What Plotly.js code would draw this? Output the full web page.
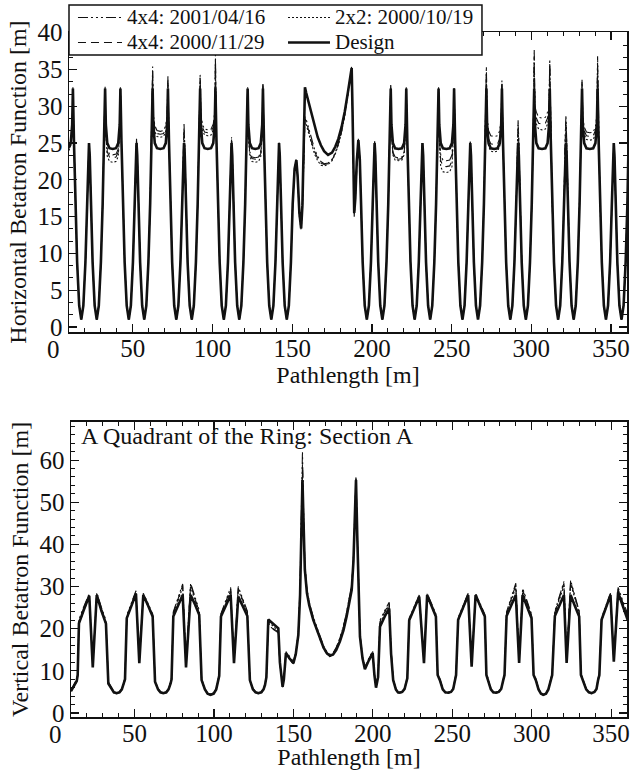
<!DOCTYPE html>
<html>
<head>
<meta charset="utf-8">
<script src="https://cdn.plot.ly/plotly-3.0.1.min.js"></script>
<style>html,body{margin:0;padding:0;background:#fff;}#chart{width:643px;height:770px;}</style>
</head>
<body>
<div id="chart"></div>
<script>
// ---------- Horizontal betatron function (top panel) ----------
const sH = [
10.0, 11.1, 12.0, 12.45, 13.1, 14.0, 15.1, 16.4,
17.7, 19.0, 20.3, 21.4, 22.1, 22.55, 23.0, 23.7, 24.8, 26.1, 27.4, 28.7, 30.0, 31.1, 32.0, 32.65, 33.1, 34.0, 35.4, 37.45, 39.5, 40.9, 41.8, 42.25, 42.9, 43.8, 44.9, 46.2,
47.5, 48.8, 50.1, 51.2, 51.9, 52.35, 52.8, 53.5, 54.6, 55.9, 57.2, 58.5, 59.8, 60.9, 61.8, 62.45, 62.9, 63.8, 65.2, 67.25, 69.3, 70.7, 71.6, 72.05, 72.7, 73.6, 74.7, 76.0,
77.3, 78.6, 79.9, 81.0, 81.7, 82.15, 82.6, 83.3, 84.4, 85.7, 87.0, 88.3, 89.6, 90.7, 91.6, 92.25, 92.7, 93.6, 95.0, 97.05, 99.1, 100.5, 101.4, 101.85, 102.5, 103.4, 104.5, 105.8,
107.1, 108.4, 109.7, 110.8, 111.5, 111.95, 112.4, 113.1, 114.2, 115.5, 116.8, 118.1, 119.4, 120.5, 121.4, 122.05, 122.5, 123.4, 124.8, 126.85, 128.9, 130.3, 131.2, 131.65, 132.3, 133.2, 134.3, 135.6,
136.9, 138.2, 139.5, 140.6, 141.3, 141.75, 142.2, 142.9, 144.0, 145.3, 146.6,
147.9, 149.2, 150.3, 151.5, 152.6, 153.4, 154.5, 155.6, 156.4, 157.3, 158.0, 158.8, 160.0, 162.0, 164.0, 166.0, 168.0, 170.0, 172.5, 175.0, 177.0, 179.0, 181.0, 183.0, 185.0, 186.5, 187.3, 187.8, 188.4, 188.9, 189.6, 190.5, 191.5, 192.4, 193.2, 194.2, 195.5,
196.8, 198.1, 199.4, 200.5, 201.2, 201.7, 202.15, 202.85, 203.95, 205.25, 206.55, 207.85, 209.15, 210.25, 211.15, 211.8, 212.25, 213.15, 214.55, 216.7, 218.8, 220.2, 221.1, 221.55, 222.2, 223.1, 224.2, 225.5,
226.8, 228.1, 229.4, 230.5, 231.2, 231.7, 232.15, 232.85, 233.95, 235.25, 236.55, 237.85, 239.15, 240.25, 241.15, 241.8, 242.25, 243.15, 244.55, 246.7, 248.8, 250.2, 251.1, 251.55, 252.2, 253.1, 254.2, 255.5,
256.8, 258.1, 259.4, 260.5, 261.2, 261.7, 262.15, 262.85, 263.95, 265.25, 266.55, 267.85, 269.15, 270.25, 271.15, 271.8, 272.25, 273.15, 274.55, 276.7, 278.8, 280.2, 281.1, 281.55, 282.2, 283.1, 284.2, 285.5,
286.8, 288.1, 289.4, 290.5, 291.2, 291.7, 292.15, 292.85, 293.95, 295.25, 296.55, 297.85, 299.15, 300.25, 301.15, 301.8, 302.25, 303.15, 304.55, 306.7, 308.8, 310.2, 311.1, 311.55, 312.2, 313.1, 314.2, 315.5,
316.8, 318.1, 319.4, 320.5, 321.2, 321.7, 322.15, 322.85, 323.95, 325.25, 326.55, 327.85, 329.15, 330.25, 331.15, 331.8, 332.25, 333.15, 334.55, 336.7, 338.8, 340.2, 341.1, 341.55, 342.2, 343.1, 344.2, 345.5,
346.8, 348.1, 349.4, 350.5, 351.2, 351.7, 352.15, 352.85, 353.95, 355.25, 356.55, 357.85, 359.15, 360.25, 361.0
];
const hDesign = [
24.4, 25.0, 27.5, 32.4, 25.3, 16.7, 8.8, 2.9,
1, 2.9, 8.8, 16.7, 23.3, 25, 23.3, 16.7, 8.8, 2.9, 1, 2.9, 8.8, 16.7, 25.3, 32.4, 27.5, 25.0, 24.3, 24.2, 24.3, 25.0, 27.5, 32.4, 25.3, 16.7, 8.8, 2.9,
1, 2.9, 8.8, 16.7, 23.3, 25, 23.3, 16.7, 8.8, 2.9, 1, 2.9, 8.8, 16.7, 25.3, 32.4, 27.5, 25.0, 24.3, 24.2, 24.3, 25.0, 27.5, 32.4, 25.3, 16.7, 8.8, 2.9,
1, 2.9, 8.8, 16.7, 23.3, 25, 23.3, 16.7, 8.8, 2.9, 1, 2.9, 8.8, 16.7, 25.3, 32.4, 27.5, 25.0, 24.3, 24.2, 24.3, 25.0, 27.5, 32.4, 25.3, 16.7, 8.8, 2.9,
1, 2.9, 8.8, 16.7, 23.3, 25, 23.3, 16.7, 8.8, 2.9, 1, 2.9, 8.8, 16.7, 25.3, 32.4, 27.5, 25.0, 24.3, 24.2, 24.3, 25.0, 27.5, 32.4, 25.3, 16.7, 8.8, 2.9,
1, 2.9, 8.8, 16.7, 23.3, 25, 23.3, 16.7, 8.8, 2.9, 1,
2.9, 8.8, 16.7, 21.5, 22.7, 20.5, 15.5, 13.4, 16.5, 25.5, 32.6, 31.8, 30.8, 28.8, 27.2, 25.8, 24.7, 23.9, 23.4, 23.7, 24.5, 25.6, 27.2, 29.3, 32.0, 34.0, 35.2, 30.0, 20.0, 15.5, 17.5, 22.5, 25.4, 22.8, 16.7, 8.8, 2.9,
1, 2.9, 8.8, 16.7, 23.3, 25, 23.3, 16.7, 8.8, 2.9, 1, 2.9, 8.8, 16.7, 25.3, 32.4, 27.5, 25.0, 24.3, 24.2, 24.3, 25.0, 27.5, 32.4, 25.3, 16.7, 8.8, 2.9,
1, 2.9, 8.8, 16.7, 23.3, 25, 23.3, 16.7, 8.8, 2.9, 1, 2.9, 8.8, 16.7, 25.3, 32.4, 27.5, 25.0, 24.3, 24.2, 24.3, 25.0, 27.5, 32.4, 25.3, 16.7, 8.8, 2.9,
1, 2.9, 8.8, 16.7, 23.3, 25, 23.3, 16.7, 8.8, 2.9, 1, 2.9, 8.8, 16.7, 25.3, 32.4, 27.5, 25.0, 24.3, 24.2, 24.3, 25.0, 27.5, 32.4, 25.3, 16.7, 8.8, 2.9,
1, 2.9, 8.8, 16.7, 23.3, 25, 23.3, 16.7, 8.8, 2.9, 1, 2.9, 8.8, 16.7, 25.3, 32.4, 27.5, 25.0, 24.3, 24.2, 24.3, 25.0, 27.5, 32.4, 25.3, 16.7, 8.8, 2.9,
1, 2.9, 8.8, 16.7, 23.3, 25, 23.3, 16.7, 8.8, 2.9, 1, 2.9, 8.8, 16.7, 25.3, 32.4, 27.5, 25.0, 24.3, 24.2, 24.3, 25.0, 27.5, 32.4, 25.3, 16.7, 8.8, 2.9,
1, 2.9, 8.8, 16.7, 23.3, 25, 23.3, 16.7, 8.8, 2.9, 1, 2.9, 8.8, 16.7, 25.3
];
const h4x4_010416 = [
24.6, 25.2, 27.6, 32.6, 25.3, 16.7, 8.8, 2.9,
1, 2.9, 8.8, 16.7, 23.3, 25, 23.3, 16.7, 8.8, 2.9, 1, 2.9, 8.8, 16.7, 25.3, 32.8, 27.0, 24.2, 23.5, 23.4, 23.5, 24.2, 27.0, 32.6, 25.3, 16.7, 8.8, 2.9,
1, 2.9, 8.8, 16.7, 23.7, 25.6, 23.7, 16.7, 8.8, 2.9, 1, 2.9, 8.8, 16.7, 25.3, 35.4, 28.9, 27.4, 26.7, 26.6, 26.7, 27.4, 28.9, 34.1, 25.3, 16.7, 8.8, 2.9,
1, 2.9, 8.8, 16.7, 24.9, 27.6, 24.9, 16.7, 8.8, 2.9, 1, 2.9, 8.8, 16.7, 25.3, 34.3, 29.1, 27.6, 26.9, 26.8, 26.9, 27.6, 29.1, 37.0, 25.3, 16.7, 8.8, 2.9,
1, 2.9, 8.8, 16.7, 23.8, 25.8, 23.8, 16.7, 8.8, 2.9, 1, 2.9, 8.8, 16.7, 25.3, 32.6, 26.8, 23.8, 23.1, 23.0, 23.1, 23.8, 26.8, 33.2, 25.3, 16.7, 8.8, 2.9,
1, 2.9, 8.8, 16.7, 23.4, 25.2, 23.4, 16.7, 8.8, 2.9, 1,
2.9, 8.8, 16.7, 21.6, 22.9, 20.6, 15.4, 13.6, 16.2, 23.5, 28.6, 28.2, 27.2, 25.5, 24.2, 23.2, 22.5, 22.2, 22.3, 22.8, 23.7, 25.0, 26.7, 28.9, 31.8, 34.0, 35.4, 29.5, 19.5, 15.0, 17.2, 22.6, 25.6, 22.9, 16.7, 8.8, 2.9,
1, 2.9, 8.8, 16.7, 23.4, 25.2, 23.4, 16.7, 8.8, 2.9, 1, 2.9, 8.8, 16.7, 25.3, 32.9, 26.8, 23.8, 23.1, 23.0, 23.1, 23.8, 26.8, 32.6, 25.3, 16.7, 8.8, 2.9,
1, 2.9, 8.8, 16.7, 23.3, 25, 23.3, 16.7, 8.8, 2.9, 1, 2.9, 8.8, 16.7, 25.3, 32.6, 26.5, 23.4, 22.7, 22.6, 22.7, 23.4, 26.5, 32.5, 25.3, 16.7, 8.8, 2.9,
1, 2.9, 8.8, 16.7, 23.4, 25.2, 23.4, 16.7, 8.8, 2.9, 1, 2.9, 8.8, 16.7, 25.3, 35.4, 28.5, 26.7, 26.0, 25.9, 26.0, 26.7, 28.5, 33.5, 25.3, 16.7, 8.8, 2.9,
1, 2.9, 8.8, 16.7, 25.2, 28.1, 25.2, 16.7, 8.8, 2.9, 1, 2.9, 8.8, 16.7, 25.3, 37.7, 30.0, 29.2, 28.5, 28.4, 28.5, 29.2, 30.0, 36.4, 25.3, 16.7, 8.8, 2.9,
1, 2.9, 8.8, 16.7, 25.6, 28.8, 25.6, 16.7, 8.8, 2.9, 1, 2.9, 8.8, 16.7, 25.3, 33.6, 28.8, 27.2, 26.5, 26.4, 26.5, 27.2, 28.8, 36.8, 25.3, 16.7, 8.8, 2.9,
1, 2.9, 8.8, 16.7, 23.2, 24.9, 23.2, 16.7, 8.8, 2.9, 1, 2.9, 8.8, 16.7, 25.3
];
const h2x2_001019 = [
24.0, 24.7, 27.3, 32.0, 25.3, 16.7, 8.8, 2.9,
1, 2.9, 8.8, 16.7, 23.3, 25, 23.3, 16.7, 8.8, 2.9, 1, 2.9, 8.8, 16.7, 25.3, 32.2, 26.4, 23.2, 22.5, 22.4, 22.5, 23.2, 26.4, 32.2, 25.3, 16.7, 8.8, 2.9,
1, 2.9, 8.8, 16.7, 23.5, 25.3, 23.5, 16.7, 8.8, 2.9, 1, 2.9, 8.8, 16.7, 25.3, 34.0, 28.5, 26.6, 25.9, 25.8, 25.9, 26.6, 28.5, 33.2, 25.3, 16.7, 8.8, 2.9,
1, 2.9, 8.8, 16.7, 24.3, 26.6, 24.3, 16.7, 8.8, 2.9, 1, 2.9, 8.8, 16.7, 25.3, 33.5, 28.6, 26.8, 26.1, 26.0, 26.1, 26.8, 28.6, 35.5, 25.3, 16.7, 8.8, 2.9,
1, 2.9, 8.8, 16.7, 23.5, 25.3, 23.5, 16.7, 8.8, 2.9, 1, 2.9, 8.8, 16.7, 25.3, 32.2, 26.4, 23.2, 22.5, 22.4, 22.5, 23.2, 26.4, 32.8, 25.3, 16.7, 8.8, 2.9,
1, 2.9, 8.8, 16.7, 23.3, 25, 23.3, 16.7, 8.8, 2.9, 1,
2.9, 8.8, 16.7, 21.3, 22.5, 20.2, 15.0, 13.2, 15.8, 23.0, 27.8, 27.5, 26.5, 24.8, 23.5, 22.6, 22.0, 21.9, 22.1, 22.6, 23.5, 24.8, 26.5, 28.8, 31.7, 33.8, 35.0, 29.8, 19.8, 15.3, 17.3, 22.4, 25.2, 22.7, 16.7, 8.8, 2.9,
1, 2.9, 8.8, 16.7, 23.4, 25.2, 23.4, 16.7, 8.8, 2.9, 1, 2.9, 8.8, 16.7, 25.3, 32.6, 26.5, 23.4, 22.7, 22.6, 22.7, 23.4, 26.5, 32.4, 25.3, 16.7, 8.8, 2.9,
1, 2.9, 8.8, 16.7, 23.3, 25, 23.3, 16.7, 8.8, 2.9, 1, 2.9, 8.8, 16.7, 25.3, 32.4, 25.6, 21.8, 21.1, 21.0, 21.1, 21.8, 25.6, 32.4, 25.3, 16.7, 8.8, 2.9,
1, 2.9, 8.8, 16.7, 23.4, 25.2, 23.4, 16.7, 8.8, 2.9, 1, 2.9, 8.8, 16.7, 25.3, 34.2, 27.3, 24.6, 23.9, 23.8, 23.9, 24.6, 27.3, 33.0, 25.3, 16.7, 8.8, 2.9,
1, 2.9, 8.8, 16.7, 24.5, 27.0, 24.5, 16.7, 8.8, 2.9, 1, 2.9, 8.8, 16.7, 25.3, 36.0, 29.1, 27.6, 26.9, 26.8, 26.9, 27.6, 29.1, 35.2, 25.3, 16.7, 8.8, 2.9,
1, 2.9, 8.8, 16.7, 24.8, 27.5, 24.8, 16.7, 8.8, 2.9, 1, 2.9, 8.8, 16.7, 25.3, 33.0, 28.2, 26.2, 25.5, 25.4, 25.5, 26.2, 28.2, 35.5, 25.3, 16.7, 8.8, 2.9,
1, 2.9, 8.8, 16.7, 23.2, 24.9, 23.2, 16.7, 8.8, 2.9, 1, 2.9, 8.8, 16.7, 25.3
];
const h4x4_001129 = [
24.3, 25.0, 27.5, 32.3, 25.3, 16.7, 8.8, 2.9,
1, 2.9, 8.8, 16.7, 23.3, 25, 23.3, 16.7, 8.8, 2.9, 1, 2.9, 8.8, 16.7, 25.3, 32.4, 26.8, 23.8, 23.1, 23.0, 23.1, 23.8, 26.8, 32.4, 25.3, 16.7, 8.8, 2.9,
1, 2.9, 8.8, 16.7, 23.6, 25.5, 23.6, 16.7, 8.8, 2.9, 1, 2.9, 8.8, 16.7, 25.3, 34.8, 28.7, 27.0, 26.3, 26.2, 26.3, 27.0, 28.7, 33.6, 25.3, 16.7, 8.8, 2.9,
1, 2.9, 8.8, 16.7, 24.5, 27.0, 24.5, 16.7, 8.8, 2.9, 1, 2.9, 8.8, 16.7, 25.3, 33.8, 28.8, 27.2, 26.5, 26.4, 26.5, 27.2, 28.8, 36.2, 25.3, 16.7, 8.8, 2.9,
1, 2.9, 8.8, 16.7, 23.6, 25.5, 23.6, 16.7, 8.8, 2.9, 1, 2.9, 8.8, 16.7, 25.3, 32.4, 26.7, 23.6, 22.9, 22.8, 22.9, 23.6, 26.7, 33.0, 25.3, 16.7, 8.8, 2.9,
1, 2.9, 8.8, 16.7, 23.3, 25, 23.3, 16.7, 8.8, 2.9, 1,
2.9, 8.8, 16.7, 21.5, 22.7, 20.4, 15.6, 13.9, 16.3, 23.3, 28.3, 28.0, 26.9, 25.2, 23.9, 22.9, 22.3, 22.1, 22.2, 22.7, 23.6, 24.9, 26.6, 28.9, 31.8, 33.9, 35.2, 30.0, 20.2, 15.6, 17.6, 22.5, 25.4, 22.8, 16.7, 8.8, 2.9,
1, 2.9, 8.8, 16.7, 23.4, 25.2, 23.4, 16.7, 8.8, 2.9, 1, 2.9, 8.8, 16.7, 25.3, 32.8, 26.7, 23.6, 22.9, 22.8, 22.9, 23.6, 26.7, 32.5, 25.3, 16.7, 8.8, 2.9,
1, 2.9, 8.8, 16.7, 23.3, 25, 23.3, 16.7, 8.8, 2.9, 1, 2.9, 8.8, 16.7, 25.3, 32.5, 26.1, 22.6, 21.9, 21.8, 21.9, 22.6, 26.1, 32.5, 25.3, 16.7, 8.8, 2.9,
1, 2.9, 8.8, 16.7, 23.4, 25.2, 23.4, 16.7, 8.8, 2.9, 1, 2.9, 8.8, 16.7, 25.3, 34.8, 27.9, 25.6, 24.9, 24.8, 24.9, 25.6, 27.9, 33.2, 25.3, 16.7, 8.8, 2.9,
1, 2.9, 8.8, 16.7, 24.8, 27.5, 24.8, 16.7, 8.8, 2.9, 1, 2.9, 8.8, 16.7, 25.3, 36.8, 29.5, 28.4, 27.7, 27.6, 27.7, 28.4, 29.5, 35.8, 25.3, 16.7, 8.8, 2.9,
1, 2.9, 8.8, 16.7, 25.1, 28.0, 25.1, 16.7, 8.8, 2.9, 1, 2.9, 8.8, 16.7, 25.3, 33.3, 28.5, 26.7, 26.0, 25.9, 26.0, 26.7, 28.5, 36.0, 25.3, 16.7, 8.8, 2.9,
1, 2.9, 8.8, 16.7, 23.2, 24.9, 23.2, 16.7, 8.8, 2.9, 1, 2.9, 8.8, 16.7, 25.3
];

// ---------- Vertical betatron function (bottom panel) ----------
const sV = [
10.0, 11.1, 12.5, 13.6, 14.2, 15.0, 18.2, 21.5, 23.7, 26.2, 29.2, 32.0, 33.5, 35.5, 37.0, 38.7, 40.5, 42.0, 43.4, 44.0,
45.1, 48.0, 50.9, 53.0, 55.5, 58.5, 61.4, 62.9, 64.8, 66.3, 68.1, 70.0, 71.4, 72.7, 73.3,
74.4, 77.5, 80.3, 82.4, 85.3, 88.0, 90.7, 92.2, 94.3, 96.0, 97.9, 99.8, 101.4, 102.7, 103.3,
104.4, 107.5, 110.5, 112.6, 115.3, 118.2, 121.0, 122.6, 124.5, 126.2, 127.9, 129.8, 131.2, 132.1, 133.0,
134.2, 137.5, 140.5, 141.5, 143.2, 144.0, 145.3, 147.5, 150.0, 151.5, 153.1, 154.2, 155.0, 155.7, 156.4, 157.2, 158.5, 160.0, 162.5, 165.0, 166.7, 169.0, 171.0, 173.0, 175.0, 177.0, 179.3, 181.5, 183.5, 185.5, 186.7, 187.8, 188.6, 189.4, 190.2, 191.0, 191.9, 193.5, 195.0, 197.5, 199.9, 201.0, 202.0, 203.3,
204.5, 207.5, 210.3, 211.5, 212.8, 214.5, 215.8, 217.0, 218.5, 220.0, 220.8, 221.7,
222.9, 226.0, 229.2, 232.2, 234.2, 237.0, 239.7, 240.8, 242.2, 244.0, 245.6, 247.4, 249.2, 250.6, 251.7, 252.4,
253.7, 257.0, 260.0, 262.2, 264.7, 267.6, 270.5, 271.5, 272.6, 274.3, 275.8, 277.5, 279.3, 280.8, 282.1, 282.9,
284.2, 287.0, 290.0, 292.1, 294.3, 297.1, 299.9, 301.2, 302.6, 304.3, 305.8, 307.2, 309.0, 310.5, 311.9, 312.9,
314.6, 317.5, 320.3, 322.0, 324.5, 327.2, 329.9, 331.0, 332.0, 334.3, 336.0, 337.7, 339.5, 340.8, 341.8, 342.6,
344.0, 346.8, 349.6, 351.7, 354.4, 357.0, 359.7, 360.5
];
const vDesign = [
5.2, 5.9, 6.6, 7.6, 9.0, 21.3, 24.6, 27.8, 10.8, 28.0, 24.2, 21.2, 7.0, 5.6, 4.9, 4.7, 4.9, 5.6, 7.0, 8.0,
22.5, 25.6, 28.3, 11.8, 28.0, 25.5, 22.9, 7.4, 5.6, 4.9, 4.7, 4.9, 5.6, 7.0, 8.0,
22.9, 25.6, 28.0, 10.8, 28.0, 25.8, 23.3, 7.8, 5.6, 4.6, 4.3, 4.6, 5.6, 7.8, 8.8,
22.9, 25.5, 28.0, 11.8, 27.6, 25.3, 23.0, 7.8, 5.6, 4.9, 4.7, 4.9, 5.6, 6.6, 8.5,
22.2, 21.2, 20.1, 12.0, 6.2, 8.0, 14.2, 13.0, 11.8, 14.0, 18.5, 28.0, 42.0, 55.3, 45.0, 34.0, 28.5, 25.5, 22.1, 19.4, 17.7, 15.5, 14.2, 13.6, 13.9, 15.0, 17.0, 19.6, 22.9, 26.5, 29.2, 36.0, 45.0, 55.3, 42.0, 28.0, 18.1, 13.0, 10.4, 12.5, 14.2, 9.0, 6.0, 8.5,
20.5, 22.9, 24.8, 14.0, 7.8, 5.6, 4.9, 4.8, 5.0, 5.7, 7.0, 8.2,
22.0, 24.8, 27.6, 11.8, 28.0, 25.4, 22.9, 9.0, 7.8, 5.6, 4.9, 4.8, 5.0, 5.7, 7.8, 9.0,
22.1, 25.0, 28.0, 11.0, 28.0, 25.4, 22.9, 9.0, 7.8, 5.6, 4.9, 4.8, 5.0, 5.7, 7.8, 9.0,
23.0, 25.6, 28.0, 11.9, 28.0, 25.2, 22.5, 9.0, 7.8, 5.6, 4.6, 4.3, 4.6, 5.6, 7.8, 9.0,
23.0, 25.6, 28.0, 11.9, 28.0, 25.4, 22.9, 9.0, 7.8, 5.6, 4.9, 4.7, 5.0, 5.7, 7.8, 9.0,
22.1, 25.0, 28.0, 12.2, 28.6, 25.8, 22.9, 22.0
];
const v4x4_010416 = [
5.4, 6.2, 7.0, 8.0, 9.5, 22.2, 25.4, 28.3, 11.3, 28.6, 25.0, 22.0, 7.4, 5.8, 5.0, 4.8, 5.0, 5.8, 7.4, 8.4,
23.2, 26.3, 29.0, 12.2, 28.4, 26.0, 23.5, 7.8, 5.8, 5.0, 4.8, 5.0, 5.8, 7.4, 8.4,
24.0, 27.4, 30.6, 11.4, 30.8, 27.6, 24.4, 8.2, 5.8, 4.8, 4.5, 4.8, 5.8, 8.2, 9.2,
23.6, 26.7, 29.8, 12.3, 30.0, 27.0, 24.2, 8.2, 5.8, 5.0, 4.8, 5.0, 5.8, 7.0, 8.9,
21.0, 19.8, 19.0, 11.5, 6.4, 8.4, 14.6, 13.4, 12.2, 14.5, 19.5, 30.0, 45.0, 62.0, 48.0, 35.5, 29.5, 26.3, 22.8, 20.0, 18.2, 15.9, 14.5, 13.9, 14.3, 15.6, 17.8, 20.6, 24.0, 27.8, 30.5, 37.0, 46.0, 56.0, 43.0, 28.8, 18.8, 13.5, 10.9, 13.0, 14.7, 9.4, 6.3, 8.9,
22.0, 24.3, 26.3, 15.0, 8.2, 5.8, 5.0, 4.9, 5.1, 5.9, 7.4, 8.6,
22.5, 25.3, 28.0, 12.4, 28.3, 25.9, 23.5, 9.4, 8.2, 5.8, 5.0, 4.9, 5.1, 5.9, 8.2, 9.4,
22.6, 25.6, 28.4, 11.6, 28.4, 25.9, 23.4, 9.4, 8.2, 5.8, 5.0, 4.9, 5.1, 5.9, 8.2, 9.4,
24.0, 27.4, 30.8, 12.4, 29.6, 26.6, 23.4, 9.4, 8.2, 5.8, 4.8, 4.5, 4.8, 5.8, 8.2, 9.4,
24.2, 27.8, 31.2, 12.5, 31.5, 27.8, 24.2, 9.4, 8.2, 5.8, 5.0, 4.8, 5.1, 5.9, 8.2, 9.4,
22.6, 25.6, 28.4, 12.6, 29.8, 27.0, 24.2, 23.4
];
const v2x2_001019 = [
5.1, 5.8, 6.5, 7.4, 8.8, 21.0, 24.4, 27.6, 11.2, 27.8, 24.0, 21.0, 6.9, 5.5, 4.8, 4.6, 4.8, 5.5, 6.9, 7.8,
22.3, 25.3, 28.5, 12.0, 27.9, 25.3, 22.7, 7.3, 5.5, 4.8, 4.6, 4.8, 5.5, 6.9, 7.8,
23.4, 26.6, 29.8, 11.6, 30.0, 26.8, 23.8, 7.7, 5.5, 4.5, 4.2, 4.5, 5.5, 7.7, 8.6,
23.1, 26.1, 29.0, 12.0, 29.2, 26.4, 23.6, 7.7, 5.5, 4.8, 4.6, 4.8, 5.5, 6.5, 8.3,
21.6, 20.4, 19.5, 11.8, 6.1, 7.9, 14.0, 12.8, 11.6, 13.8, 18.2, 28.5, 43.0, 57.5, 46.0, 34.5, 28.8, 25.6, 22.0, 19.2, 17.5, 15.3, 14.0, 13.4, 13.8, 15.2, 17.5, 20.3, 23.6, 27.3, 30.0, 36.5, 45.5, 55.6, 42.5, 28.3, 18.3, 13.1, 10.5, 12.6, 14.3, 9.1, 6.0, 8.4,
21.3, 23.6, 25.6, 14.5, 7.7, 5.5, 4.8, 4.7, 4.9, 5.6, 6.9, 8.1,
21.8, 24.6, 27.6, 12.0, 27.8, 25.2, 22.7, 8.9, 7.7, 5.5, 4.8, 4.7, 4.9, 5.6, 7.7, 8.9,
21.9, 24.8, 27.8, 11.4, 27.8, 25.2, 22.7, 8.9, 7.7, 5.5, 4.8, 4.7, 4.9, 5.6, 7.7, 8.9,
23.4, 26.6, 29.8, 12.2, 28.8, 26.0, 23.0, 8.9, 7.7, 5.5, 4.5, 4.2, 4.5, 5.5, 7.7, 8.9,
23.6, 27.0, 30.2, 12.3, 30.6, 27.2, 23.8, 8.9, 7.7, 5.5, 4.8, 4.6, 4.9, 5.6, 7.7, 8.9,
21.9, 24.8, 27.8, 12.4, 28.9, 26.2, 23.3, 22.5
];
const v4x4_001129 = [
5.3, 6.0, 6.8, 7.8, 9.2, 21.8, 25.0, 28.0, 11.0, 28.2, 24.6, 21.6, 7.2, 5.7, 5.0, 4.8, 5.0, 5.7, 7.2, 8.2,
22.8, 25.9, 28.8, 11.9, 28.2, 25.8, 23.2, 7.6, 5.7, 5.0, 4.8, 5.0, 5.7, 7.2, 8.2,
23.7, 27.0, 30.3, 11.2, 30.5, 27.2, 24.1, 8.0, 5.7, 4.7, 4.4, 4.7, 5.7, 8.0, 9.0,
23.4, 26.4, 29.4, 12.1, 29.6, 26.7, 23.9, 8.0, 5.7, 5.0, 4.8, 5.0, 5.7, 6.8, 8.7,
21.3, 20.0, 19.2, 11.6, 6.3, 8.2, 14.4, 13.2, 12.0, 14.2, 19.0, 29.2, 44.0, 59.0, 47.0, 35.0, 29.2, 26.0, 22.5, 19.7, 17.9, 15.6, 14.3, 13.7, 14.1, 15.4, 17.8, 20.5, 23.8, 27.6, 30.3, 36.8, 45.8, 55.8, 42.8, 28.6, 18.6, 13.3, 10.7, 12.8, 14.5, 9.2, 6.2, 8.7,
21.7, 24.0, 26.0, 14.8, 8.0, 5.7, 5.0, 4.9, 5.1, 5.8, 7.2, 8.4,
22.2, 25.0, 27.8, 12.2, 28.0, 25.6, 23.2, 9.2, 8.0, 5.7, 5.0, 4.9, 5.1, 5.8, 8.0, 9.2,
22.3, 25.3, 28.2, 11.2, 28.2, 25.6, 23.1, 9.2, 8.0, 5.7, 5.0, 4.9, 5.1, 5.8, 8.0, 9.2,
23.7, 27.0, 30.4, 12.0, 29.2, 26.3, 23.2, 9.2, 8.0, 5.7, 4.7, 4.4, 4.7, 5.7, 8.0, 9.2,
23.9, 27.4, 30.8, 12.1, 31.2, 27.5, 24.0, 9.2, 8.0, 5.7, 5.0, 4.8, 5.1, 5.8, 8.0, 9.2,
22.3, 25.2, 28.2, 12.3, 29.4, 26.6, 23.8, 23.0
];

const seriesNames = ['4x4: 2001/04/16', '2x2: 2000/10/19', '4x4: 2000/11/29', 'Design'];
const xTickFirstLabel = '0';
const ink = '#111111';
const FONT = 'Liberation Serif, Times New Roman, serif';
const lineStyles = [
  {color: ink, width: 1.1, dash: '10px,3px,2px,3px,2px,3px,2px,3px'},
  {color: ink, width: 1.1, dash: '2px,2px'},
  {color: ink, width: 1.1, dash: '8px,5px'},
  {color: ink, width: 2.6, dash: 'solid'}
];
const hSets = [h4x4_010416, h2x2_001019, h4x4_001129, hDesign];
const vSets = [v4x4_010416, v2x2_001019, v4x4_001129, vDesign];

const traces = [];
hSets.forEach((ys, i) => traces.push({
  x: sH, y: ys, type: 'scatter', mode: 'lines', name: seriesNames[i],
  line: lineStyles[i], xaxis: 'x', yaxis: 'y', showlegend: false
}));
vSets.forEach((ys, i) => traces.push({
  x: sV, y: ys, type: 'scatter', mode: 'lines', name: seriesNames[i],
  line: lineStyles[i], xaxis: 'x2', yaxis: 'y2', showlegend: false
}));

const TICK = 25, TITLE = 24;
const axisCommon = {
  showline: true, linecolor: ink, linewidth: 1.5, mirror: 'ticks',
  ticks: 'inside', ticklen: 8, tickwidth: 1.2, tickcolor: ink,
  showgrid: false, zeroline: false,
  tickfont: {family: FONT, size: TICK, color: ink}
};

// Hand-built legend box (paper coordinates of the top subplot)
const legendBox = {x0: 0, x1: 0.7401, y0: 0.9664, y1: 1.0394};
const legendSlots = [
  {lx0: 0.0161, lx1: 0.0950, tx: 0.1004, y: 1.0212},
  {lx0: 0.3925, lx1: 0.4677, tx: 0.4731, y: 1.0212},
  {lx0: 0.0161, lx1: 0.0950, tx: 0.1004, y: 0.9847},
  {lx0: 0.3925, lx1: 0.4677, tx: 0.4731, y: 0.9847}
];
const shapes = [{
  type: 'rect', xref: 'paper', yref: 'paper', layer: 'above',
  x0: legendBox.x0, x1: legendBox.x1, y0: legendBox.y0, y1: legendBox.y1,
  fillcolor: '#fff', line: {color: ink, width: 1.5}
}];
const annotations = [];
seriesNames.forEach((name, i) => {
  const s = legendSlots[i];
  shapes.push({type: 'line', xref: 'paper', yref: 'paper', layer: 'above',
    x0: s.lx0, x1: s.lx1, y0: s.y, y1: s.y,
    line: {color: ink, width: lineStyles[i].width, dash: lineStyles[i].dash}});
  annotations.push({text: name, xref: 'paper', yref: 'paper', x: s.tx, y: s.y,
    xanchor: 'left', yanchor: 'middle', showarrow: false,
    font: {family: FONT, size: 21, color: ink}});
});
// The "0" label of each path-length axis sits just left of the frame
[['x domain', 'y domain'], ['x2 domain', 'y2 domain']].forEach(r => {
  annotations.push({text: xTickFirstLabel, xref: r[0], yref: r[1], x: -10 / 350, y: 0,
    xanchor: 'center', yanchor: 'middle', yshift: -17, showarrow: false,
    font: {family: FONT, size: TICK, color: ink}});
});
annotations.push({
  text: 'A Quadrant of the Ring: Section A',
  xref: 'x2 domain', yref: 'y2 domain', x: 0, y: 1,
  xanchor: 'left', yanchor: 'top', xshift: 8, yshift: 1, showarrow: false,
  font: {family: FONT, size: 24, color: ink}
});

const layout = {
  width: 643, height: 770,
  margin: {l: 69, r: 16, t: 32, b: 53},
  paper_bgcolor: '#fff', plot_bgcolor: '#fff',
  font: {family: FONT, color: ink},
  showlegend: false,
  xaxis: Object.assign({}, axisCommon, {
    domain: [0, 1], anchor: 'y', range: [10, 360], tick0: 0, dtick: 50, ticklabelstandoff: -7,
    minor: {dtick: 10, ticklen: 4, tickwidth: 1, ticks: 'inside', tickcolor: ink},
    title: {text: 'Pathlength [m]', font: {family: FONT, size: TITLE, color: ink}, standoff: 2}
  }),
  yaxis: Object.assign({}, axisCommon, {
    domain: [0.562, 1], anchor: 'x', range: [-0.68, 40.1], tick0: 0, dtick: 5,
    minor: {dtick: 5 / 3, ticklen: 4, tickwidth: 1, ticks: 'inside', tickcolor: ink},
    title: {text: 'Horizontal Betatron Function [m]', font: {family: FONT, size: TITLE, color: ink}, standoff: 4}
  }),
  xaxis2: Object.assign({}, axisCommon, {
    domain: [0.0036, 1], anchor: 'y2', range: [10, 360], tick0: 0, dtick: 50, ticklabelstandoff: -7,
    minor: {dtick: 10, ticklen: 4, tickwidth: 1, ticks: 'inside', tickcolor: ink},
    title: {text: 'Pathlength [m]', font: {family: FONT, size: TITLE, color: ink}, standoff: 2}
  }),
  yaxis2: Object.assign({}, axisCommon, {
    domain: [0, 0.4307], anchor: 'x2', range: [-0.95, 69.05], tick0: 0, dtick: 10,
    minor: {dtick: 2, ticklen: 4, tickwidth: 1, ticks: 'inside', tickcolor: ink},
    title: {text: 'Vertical Betatron Function [m]', font: {family: FONT, size: TITLE, color: ink}, standoff: 4}
  }),
  shapes: shapes,
  annotations: annotations
};

Plotly.newPlot('chart', traces, layout, {staticPlot: true, displayModeBar: false});
</script>
</body>
</html>
